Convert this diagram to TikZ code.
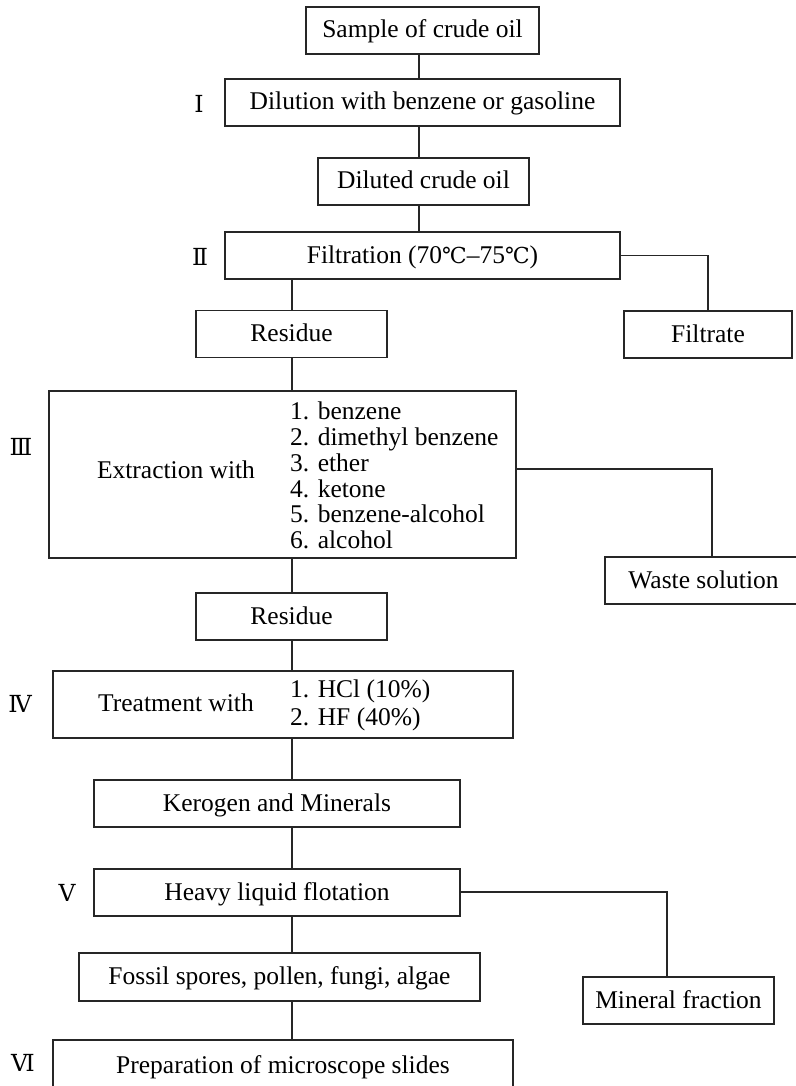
\documentclass[tikz,border=0pt]{standalone}
\usepackage{fontspec}
\setmainfont{Liberation Serif}
\newfontfamily\numfont{DejaVu Serif}
\newfontfamily\symfont{DejaVu Serif}
\begin{document}
\begin{tikzpicture}[x=1pt,y=-1pt,
  box/.style={draw=black!85, line width=1.5pt, inner sep=0pt, minimum height=47pt,
    text height=18pt, text depth=3pt, font=\fontsize{25.5}{26}\selectfont},
  link/.style={draw=black!85, line width=1.5pt},
  num/.style={font=\numfont\fontsize{23.5}{24}\selectfont, inner sep=0pt},
  txt/.style={inner sep=0pt, font=\fontsize{25.5}{25.8}\selectfont}]
\useasboundingbox (0,0) rectangle (795,1086);
\fill[white] (0,0) rectangle (795,1086);

% boxes
\node[box, minimum width=233pt] (sample) at (422.5,30.5) {Sample of crude oil};
\node[box, minimum width=395pt] (dil) at (422.5,102.5) {Dilution with benzene or gasoline};
\node[box, minimum width=211pt] (diluted) at (423.5,181.5) {Diluted crude oil};
\node[box, minimum width=395pt] (filt) at (422.5,255.5) {Filtration (70{\symfont\fontsize{22}{24}\selectfont ℃}–75{\symfont\fontsize{22}{24}\selectfont ℃})};
\node[box, minimum width=191pt] (res1) at (291.5,334) {Residue};
\node[box, minimum width=168pt] (filtrate) at (708,334.5) {Filtrate};
\node[box, minimum width=467pt, minimum height=167pt] (extr) at (282.5,474.5) {};
\node[txt] (extrlbl) at (176,470) {Extraction with};
\node[txt, anchor=west, align=left] (extrlist) at (290,475.5)
  {1. benzene\\2. dimethyl benzene\\3. ether\\4. ketone\\5. benzene-alcohol\\6. alcohol};
\node[box, minimum width=197pt] (waste) at (703.5,580.5) {Waste solution};
\node[box, minimum width=191pt] (res2) at (291.5,616.5) {Residue};
\node[box, minimum width=460pt, minimum height=67pt] (treat) at (283,704.5) {};
\node[txt] (treatlbl) at (176,703) {Treatment with};
\node[txt, anchor=west, align=left, font=\fontsize{25.5}{28}\selectfont] (treatlist) at (290,705)
  {1. HCl (10\%)\\2. HF (40\%)};
\node[box, minimum width=366pt] (kero) at (277,803.5) {Kerogen and Minerals};
\node[box, minimum width=366pt] (heavy) at (277,892.5) {Heavy liquid flotation};
\node[box, minimum width=401pt, minimum height=48pt] (fossil) at (279.5,977) {Fossil spores, pollen, fungi, algae};
\node[box, minimum width=191pt] (mineral) at (678.5,1000.5) {Mineral fraction};
\node[box, minimum width=460pt, minimum height=52pt] (prep) at (283,1066) {Preparation of microscope slides};

% step numbers
\node[num] (n1) at (199,104) {Ⅰ};
\node[num] (n2) at (200,257) {Ⅱ};
\node[num] (n3) at (21,447) {Ⅲ};
\node[num] (n4) at (20,704) {Ⅳ};
\node[num] (n5) at (67,893) {Ⅴ};
\node[num] (n6) at (23,1063) {Ⅵ};

% spine coordinates
\coordinate (spA) at (419,0);
\coordinate (spB) at (292,0);
\coordinate (wbend) at (712,469);
\coordinate (mbend) at (667,892);

% connectors
\draw[link] (sample.south -| spA) -- (dil.north -| spA);
\draw[link] (dil.south -| spA) -- (diluted.north -| spA);
\draw[link] (diluted.south -| spA) -- (filt.north -| spA);
\draw[link] (filt.south -| spB) -- (res1.north -| spB);
\draw[link] (filt.east) -| (filtrate.north);
\draw[link] (res1.south -| spB) -- (extr.north -| spB);
\draw[link] (extr.east |- wbend) -- (wbend) -- (waste.north -| wbend);
\draw[link] (extr.south -| spB) -- (res2.north -| spB);
\draw[link] (res2.south -| spB) -- (treat.north -| spB);
\draw[link] (treat.south -| spB) -- (kero.north -| spB);
\draw[link] (kero.south -| spB) -- (heavy.north -| spB);
\draw[link] (heavy.east |- mbend) -- (mbend) -- (mineral.north -| mbend);
\draw[link] (heavy.south -| spB) -- (fossil.north -| spB);
\draw[link] (fossil.south -| spB) -- (prep.north -| spB);
\end{tikzpicture}
\end{document}
